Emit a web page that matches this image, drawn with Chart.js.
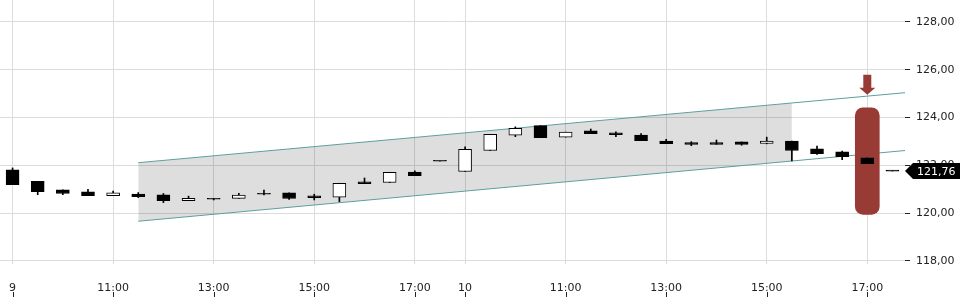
<!DOCTYPE html>
<html>
<head>
<meta charset="utf-8">
<script src="https://cdn.jsdelivr.net/npm/chart.js@4"></script>
<style>
  html, body { margin: 0; padding: 0; background: #fff; }
  #wrap { width: 960px; height: 300px; }
</style>
</head>
<body>
<div id="wrap"><canvas id="myChart"></canvas></div>
<script>
// half-hour candles over two days
const xLabels = ['9', '', '', '', '11:00', '', '', '', '13:00', '', '', '', '15:00', '', '', '', '17:00', '',
                 '10', '', '', '', '11:00', '', '', '', '13:00', '', '', '', '15:00', '', '', '', '17:00', ''];
const opens  = [121.81, 121.33, 120.97, 120.89, 120.73, 120.80, 120.76, 120.52, 120.58, 120.62, 120.79, 120.85,
                120.72, 120.67, 121.31, 121.28, 121.72, 122.17, 121.74, 122.62, 123.26, 123.66, 123.18, 123.44,
                123.36, 123.27, 123.02, 122.95, 122.95, 122.98, 122.92, 123.01, 122.69, 122.56, 122.31, 121.76];
const closes = [121.19, 120.90, 120.82, 120.73, 120.85, 120.69, 120.52, 120.62, 120.58, 120.75, 120.79, 120.61,
                120.65, 121.25, 121.23, 121.71, 121.57, 122.17, 122.67, 123.30, 123.55, 123.16, 123.39, 123.33,
                123.28, 123.03, 122.91, 122.87, 122.88, 122.88, 123.01, 122.62, 122.49, 122.36, 122.07, 121.76];
const highs  = [121.89, 121.33, 120.97, 121.00, 120.92, 120.86, 120.82, 120.71, 120.61, 120.83, 120.96, 120.85,
                120.79, 121.25, 121.47, 121.71, 121.77, 122.17, 122.77, 123.30, 123.61, 123.66, 123.39, 123.52,
                123.40, 123.33, 123.09, 122.99, 123.06, 122.98, 123.18, 123.01, 122.81, 122.60, 122.31, 121.76];
const lows   = [121.19, 120.77, 120.77, 120.73, 120.73, 120.65, 120.44, 120.52, 120.55, 120.62, 120.76, 120.57,
                120.55, 120.48, 121.23, 121.28, 121.57, 122.17, 121.74, 122.62, 123.20, 123.16, 123.18, 123.33,
                123.20, 123.03, 122.91, 122.82, 122.88, 122.84, 122.90, 122.18, 122.46, 122.24, 122.07, 121.76];

// trend channel (x in candle index units)
const channelX     = [5, 31, 35.5];
const channelUpper = [122.11, 124.61, 125.04];
const channelLower = [119.66, 122.18, 122.62];

const yTicks = [118, 120, 122, 124, 126, 128];

const markIndex = 34;
const markRange = [119.95, 124.41];
const arrowTip = 124.95;
const lastPrice = 121.76;

const red = '#993b35';
const fmt = v => v.toFixed(2).replace('.', ',');

Chart.defaults.font.family = 'DejaVu Sans';
Chart.defaults.font.size = 11;
Chart.defaults.color = '#222';

const pts = (xs, ys) => xs.map((x, i) => ({ x: x, y: ys[i] }));

const extras = {
  id: 'extras',
  afterDraw(chart) {
    const ctx = chart.ctx;
    const x = chart.scales.x, y = chart.scales.y;

    // arrow above the marked candle
    const ax = x.getPixelForValue(markIndex);
    const ay = y.getPixelForValue(arrowTip);
    ctx.save();
    ctx.fillStyle = red;
    ctx.beginPath();
    ctx.moveTo(ax - 4, ay - 20);
    ctx.lineTo(ax + 4, ay - 20);
    ctx.lineTo(ax + 4, ay - 7);
    ctx.lineTo(ax + 8, ay - 7);
    ctx.lineTo(ax, ay);
    ctx.lineTo(ax - 8, ay - 7);
    ctx.lineTo(ax - 4, ay - 7);
    ctx.closePath();
    ctx.fill();

    // last price tag
    const py = Math.round(y.getPixelForValue(lastPrice));
    const px = chart.chartArea.right;
    ctx.fillStyle = '#000';
    ctx.beginPath();
    ctx.moveTo(px, py);
    ctx.lineTo(px + 8, py - 8);
    ctx.lineTo(chart.width, py - 8);
    ctx.lineTo(chart.width, py + 8);
    ctx.lineTo(px + 8, py + 8);
    ctx.closePath();
    ctx.fill();
    ctx.fillStyle = '#fff';
    ctx.font = '11px "DejaVu Sans"';
    ctx.textBaseline = 'middle';
    ctx.fillText(fmt(lastPrice), px + 12, py + 1);

    // small marks under the time labels
    ctx.strokeStyle = '#222';
    ctx.lineWidth = 1;
    xLabels.forEach((l, i) => {
      if (!l) return;
      const tx = Math.round(x.getPixelForValue(i)) + 0.5;
      ctx.beginPath();
      ctx.moveTo(tx, chart.height - 8);
      ctx.lineTo(tx, chart.height - 3);
      ctx.stroke();
    });
    ctx.restore();
  }
};

new Chart(document.getElementById('myChart'), {
  type: 'bar',
  data: {
    labels: xLabels,
    datasets: [
      {
        label: 'bodies',
        data: opens.map((o, i) => [o, closes[i]]),
        backgroundColor: opens.map((o, i) => closes[i] > o ? '#fff' : '#000'),
        borderColor: '#000',
        borderWidth: 1,
        borderSkipped: false,
        barThickness: 13,
        minBarLength: 1,
        grouped: false,
        order: 1
      },
      {
        label: 'wicks',
        data: lows.map((l, i) => [l, highs[i]]),
        backgroundColor: '#000',
        barThickness: 1,
        grouped: false,
        order: 2
      },
      {
        label: 'mark',
        data: xLabels.map((l, i) => i === markIndex ? markRange : null),
        backgroundColor: red,
        borderRadius: 8,
        borderSkipped: false,
        barThickness: 24,
        grouped: false,
        order: 3
      },
      {
        type: 'line',
        label: 'upper',
        xAxisID: 'x2',
        data: pts(channelX, channelUpper),
        borderColor: '#5e9ea0',
        borderWidth: 1,
        pointRadius: 0,
        fill: false,
        order: 4
      },
      {
        type: 'line',
        label: 'lower',
        xAxisID: 'x2',
        data: pts(channelX, channelLower),
        borderColor: '#5e9ea0',
        borderWidth: 1,
        pointRadius: 0,
        fill: false,
        order: 4
      },
      {
        type: 'line',
        label: 'band top',
        xAxisID: 'x2',
        data: pts(channelX.slice(0, 2), channelUpper.slice(0, 2)),
        borderWidth: 0,
        pointRadius: 0,
        backgroundColor: 'rgba(0,0,0,0.13)',
        fill: '+1',
        order: 5
      },
      {
        type: 'line',
        label: 'band bottom',
        xAxisID: 'x2',
        data: pts(channelX.slice(0, 2), channelLower.slice(0, 2)),
        borderWidth: 0,
        pointRadius: 0,
        fill: false,
        order: 5
      }
    ]
  },
  options: {
    responsive: true,
    maintainAspectRatio: false,
    animation: false,
    layout: { padding: 0 },
    plugins: { legend: { display: false }, tooltip: { enabled: false } },
    scales: {
      x: {
        offset: true,
        grid: {
          offset: false,
          drawTicks: false,
          color: c => xLabels[c.index] ? '#dcdcdc' : 'rgba(0,0,0,0)'
        },
        border: { display: false },
        ticks: { autoSkip: false, maxRotation: 0, padding: 18 },
        afterFit: s => { s.paddingLeft = 0; s.paddingRight = 0; s.height = 36; }
      },
      x2: {
        type: 'linear',
        display: false,
        offset: false,
        min: -0.5,
        max: 35.5
      },
      y: {
        position: 'right',
        min: 117.87,
        max: 128.92,
        grid: { color: '#dcdcdc', tickColor: '#222', tickLength: 5 },
        border: { display: false },
        ticks: { padding: 6, callback: v => fmt(v) },
        afterBuildTicks: s => { s.ticks = yTicks.map(v => ({ value: v })); },
        afterFit: s => { s.paddingTop = 0; s.paddingBottom = 0; s.width = 55; }
      }
    }
  },
  plugins: [extras]
});
</script>
</body>
</html>
